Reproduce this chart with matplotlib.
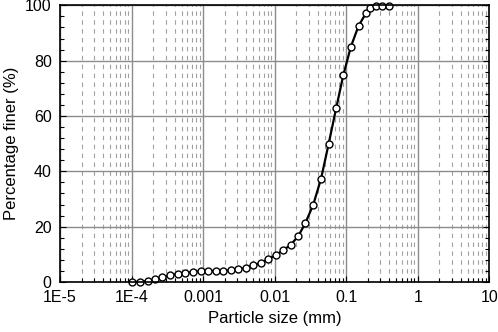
import matplotlib
matplotlib.use("Agg")
import matplotlib.pyplot as plt
from matplotlib.ticker import LogLocator, FixedLocator, MultipleLocator, NullFormatter

plt.rcParams['font.family'] = ['Liberation Sans', 'DejaVu Sans']

particle_size_mm = [1.0e-4, 1.30e-4, 1.70e-4, 2.16e-4, 2.70e-4, 3.42e-4, 4.39e-4, 5.6e-4,
                    7.18e-4, 9.2e-4, 1.175e-3, 1.51e-3, 1.91e-3, 2.44e-3, 3.09e-3, 3.95e-3,
                    5.0e-3, 6.35e-3, 8.1e-3, 1.03e-2, 1.30e-2, 1.67e-2, 2.13e-2, 2.68e-2,
                    3.47e-2, 4.46e-2, 5.67e-2, 7.24e-2, 9.14e-2, 0.1165, 0.149, 0.1905,
                    0.218, 0.264, 0.32, 0.395]
percent_finer = [0.0, 0.1, 0.4, 1.0, 1.8, 2.4, 2.9, 3.3,
                 3.6, 3.9, 4.0, 4.0, 4.1, 4.2, 4.6, 5.1,
                 6.0, 6.9, 8.3, 9.7, 11.4, 13.4, 16.5, 21.2,
                 28.0, 37.4, 49.8, 62.8, 74.9, 85.1, 92.6, 97.3,
                 98.9, 99.6, 99.8, 99.8]

x_ticks = [1e-5, 1e-4, 1e-3, 1e-2, 1e-1, 1, 10]
x_tick_labels = ['1E-5', '1E-4', '0.001', '0.01', '0.1', '1', '10']
y_ticks = [0, 20, 40, 60, 80, 100]

fig = plt.figure(figsize=(4.98, 3.32), dpi=100)
ax = fig.add_axes([0.1205, 0.1506, 0.862, 0.8334])

ax.set_xscale('log')
ax.set_xlim(1e-5, 10)
ax.set_ylim(0, 100)

ax.xaxis.set_major_locator(FixedLocator(x_ticks))
ax.set_xticklabels(x_tick_labels)
ax.xaxis.set_minor_locator(LogLocator(base=10, subs=range(2, 10), numticks=20))
ax.xaxis.set_minor_formatter(NullFormatter())
ax.set_yticks(y_ticks)
ax.yaxis.set_minor_locator(MultipleLocator(4))

ax.grid(which='major', color='#8c8c8c', linewidth=1.0, linestyle='-')
ax.grid(which='minor', axis='x', color='#a0a0a0', linewidth=0.8, linestyle=(0, (4, 4)))
ax.set_axisbelow(True)

ax.plot(particle_size_mm, percent_finer, color='black', linewidth=1.6,
        marker='o', markersize=5, markerfacecolor='white', markeredgecolor='black',
        markeredgewidth=1.0, clip_on=False, zorder=3)

ax.tick_params(which='both', direction='in', top=False, right=True, labelsize=11.5, pad=6)
ax.tick_params(which='major', length=4, width=0.8)
ax.tick_params(which='minor', length=3, width=0.8)
for s in ax.spines.values():
    s.set_linewidth(1.2)
    s.set_zorder(4)

ax.set_xlabel('Particle size (mm)', fontsize=12, labelpad=4)
ax.set_ylabel('Percentage finer (%)', fontsize=12, labelpad=4)

fig.savefig('out.png', dpi=100)
